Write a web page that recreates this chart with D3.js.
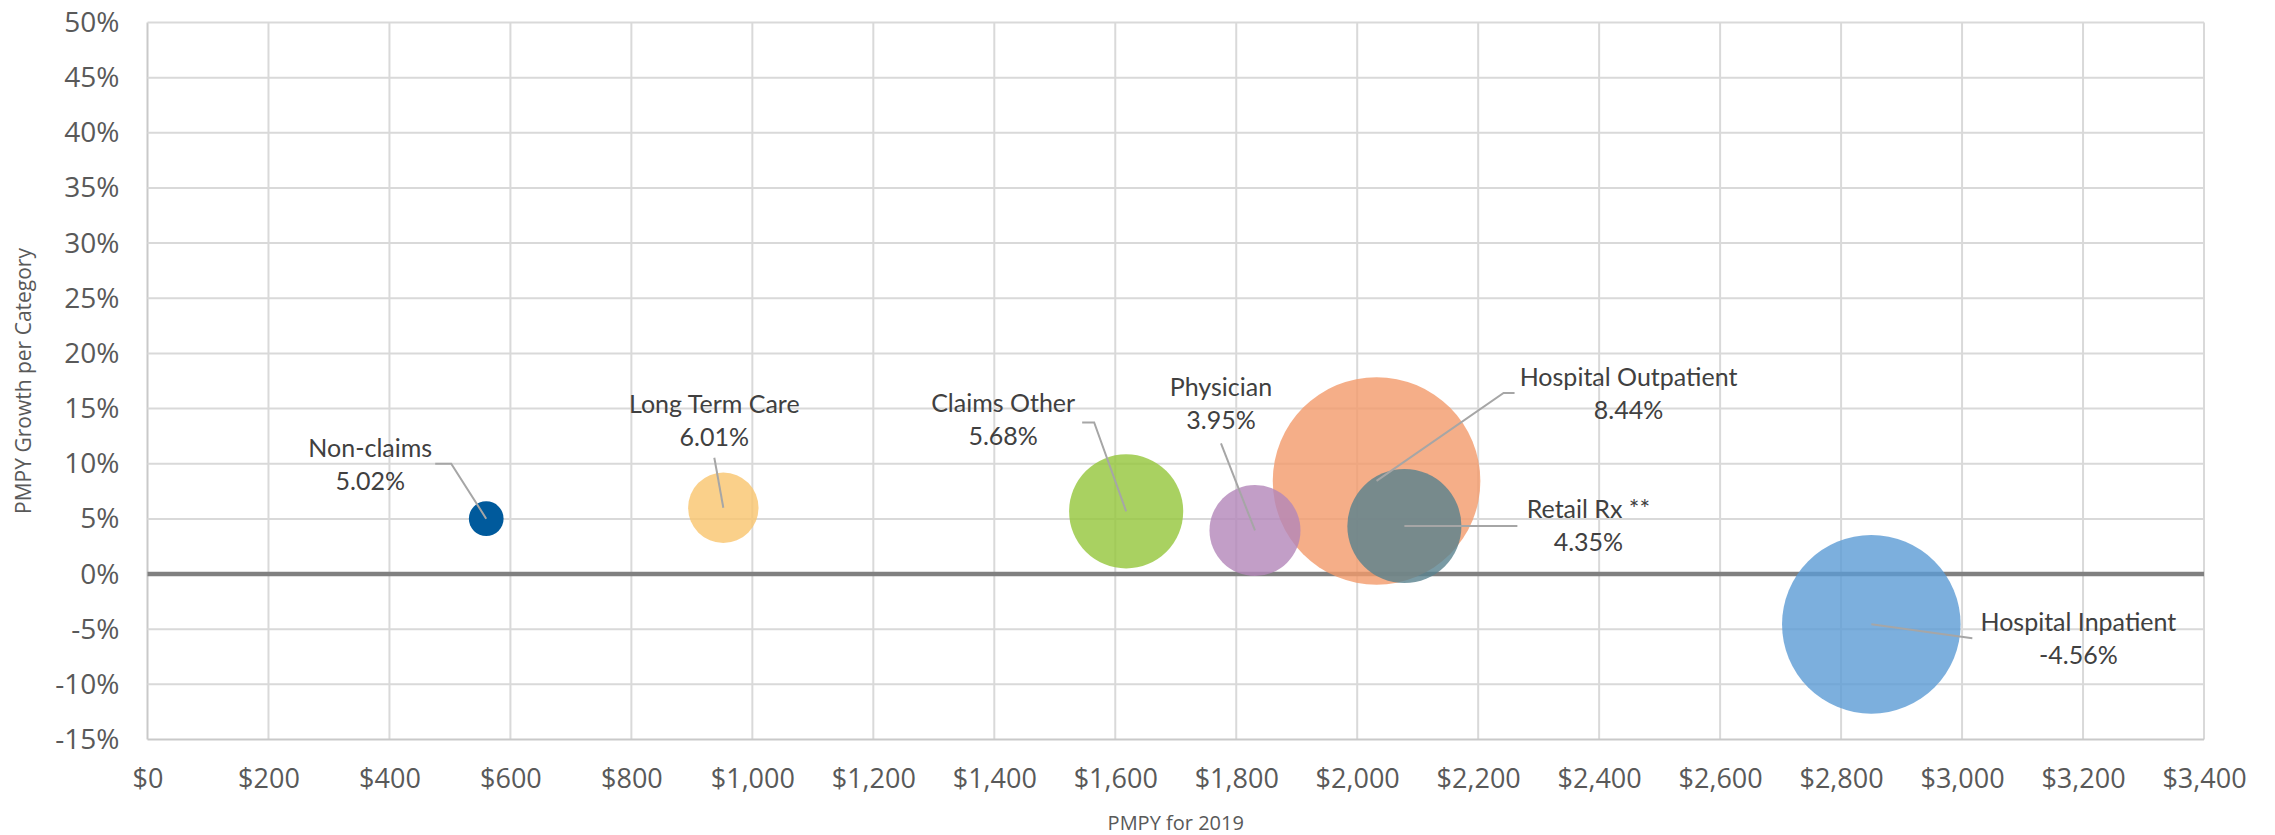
<!DOCTYPE html>
<html>
<head>
<meta charset="utf-8">
<script src="https://cdn.jsdelivr.net/npm/d3@7"></script>
<style>
  html, body { margin: 0; padding: 0; background: #fff; }
  svg { display: block; }
</style>
</head>
<body>
<svg id="chart" width="2275" height="835"></svg>
<script>
// Spend categories, 2019 PMPY cost and year-over-year PMPY growth
const categories = ["Non-claims", "Long Term Care", "Claims Other", "Physician",
                    "Hospital Outpatient", "Retail Rx **", "Hospital Inpatient"];
const pmpy2019 = [560, 952, 1618, 1831, 2032, 2078, 2850];
const growthPct = [5.02, 6.01, 5.68, 3.95, 8.44, 4.35, -4.56];
// Relative bubble area per category
const bubbleSize = [2.8, 11.5, 30.2, 19.2, 100, 30.2, 74];

const xTicks = d3.range(0, 3401, 200);
const yTicks = d3.range(-15, 51, 5);

// Fill colours and opacity per category
const fills = ["#005A9C", "#F9C46D", "#93C53A", "#B386B9", "#F39A6A", "#58818D", "#5B9BD5"];
const fillOpacity = [1, 0.8, 0.8, 0.8, 0.8, 0.8, 0.8];

// Data label placement: text centre / first baseline offset from the bubble centre,
// leader start point and optional elbow (pixels, relative to bubble centre)
const labelLayout = [
  { tx: -116, ty: -62, lx: -51, ly: -55, ex: -35, ey: -55 },
  { tx: -9,   ty: -95, lx: -9,  ly: -50 },
  { tx: -123, ty: -99, lx: -44, ly: -89, ex: -32, ey: -89 },
  { tx: -34,  ty: -134, lx: -34, ly: -87 },
  { tx: 252,  ty: -95, lx: 138, ly: -88, ex: 127, ey: -88 },
  { tx: 184,  ty: -8,  lx: 113, ly: 0 },
  { tx: 207,  ty: 7,   lx: 101, ly: 14 }
];

const rows = categories.map((c, i) => ({
  name: c, x: pmpy2019[i], y: growthPct[i], size: bubbleSize[i],
  fill: fills[i], op: fillOpacity[i], lab: labelLayout[i]
}));

const svg = d3.select("#chart");
const plotLeft = 147.5, plotRight = 2204, plotTop = 22.5, plotBottom = 739.5;

const x = d3.scaleLinear().domain([0, 3400]).range([plotLeft, plotRight]);
const y = d3.scaleLinear().domain([-15, 50]).range([plotBottom, plotTop]);
const r = d3.scaleSqrt().domain([0, 100]).range([0, 103.8]);

const loc = d3.formatLocale({ decimal: ".", thousands: ",", grouping: [3], currency: ["$", ""], minus: "-" });
const fmtMoney = loc.format("$,");
const fmtPct = v => loc.format("d")(v) + "%";
const fmtVal = v => loc.format(".2f")(v) + "%";

const tickFont = "'Open Sans', 'Noto Sans', sans-serif";
const labelFont = "Lato, 'Noto Sans', sans-serif";

// Gridlines
const grid = svg.append("g");
grid.selectAll("line.v").data(xTicks).join("line")
  .attr("x1", d => x(d)).attr("x2", d => x(d))
  .attr("y1", plotTop).attr("y2", plotBottom)
  .attr("stroke", d => d === 0 ? "#C9C9C9" : "#D9D9D9").attr("stroke-width", 2);
grid.selectAll("line.h").data(yTicks).join("line")
  .attr("x1", plotLeft).attr("x2", plotRight)
  .attr("y1", d => y(d)).attr("y2", d => y(d))
  .attr("stroke", d => d === -15 ? "#C9C9C9" : "#D9D9D9").attr("stroke-width", 2);

// Axes (labels only)
const xAxis = svg.append("g").attr("transform", `translate(0,${plotBottom})`)
  .call(d3.axisBottom(x).tickValues(xTicks).tickFormat(fmtMoney).tickSize(0).tickPadding(29));
const yAxis = svg.append("g").attr("transform", `translate(${plotLeft},0)`)
  .call(d3.axisLeft(y).tickValues(yTicks).tickFormat(fmtPct).tickSize(0).tickPadding(28));
[xAxis, yAxis].forEach(a => {
  a.select(".domain").remove();
  a.selectAll("text").attr("fill", "#595959").style("font-family", tickFont).style("font-size", "27px");
});
yAxis.selectAll("text").style("font-size", "28px");

// Zero line
svg.append("line")
  .attr("x1", plotLeft).attr("x2", plotRight)
  .attr("y1", y(0)).attr("y2", y(0))
  .attr("stroke", "#808080").attr("stroke-width", 4.5);

// Bubbles, largest drawn first
const sorted = rows.slice().sort((a, b) => b.size - a.size);
svg.append("g").selectAll("circle").data(sorted).join("circle")
  .attr("cx", d => x(d.x)).attr("cy", d => y(d.y)).attr("r", d => r(d.size))
  .attr("fill", d => d.fill).attr("fill-opacity", d => d.op);

// Leader lines
svg.append("g").selectAll("polyline").data(rows).join("polyline")
  .attr("points", d => {
    const cx = x(d.x), cy = y(d.y), L = d.lab;
    const pts = [[cx + L.lx, cy + L.ly]];
    if (L.ex !== undefined) pts.push([cx + L.ex, cy + L.ey]);
    pts.push([cx, cy]);
    return pts.map(p => p.join(",")).join(" ");
  })
  .attr("fill", "none").attr("stroke", "#A6A6A6").attr("stroke-width", 2);

// Data labels
const labels = svg.append("g").selectAll("text").data(rows).join("text")
  .attr("text-anchor", "middle")
  .attr("fill", "#404040")
  .style("font-family", labelFont).style("font-size", "25px");
labels.append("tspan")
  .attr("x", d => x(d.x) + d.lab.tx).attr("y", d => y(d.y) + d.lab.ty)
  .text(d => d.name);
labels.append("tspan")
  .attr("x", d => x(d.x) + d.lab.tx).attr("y", d => y(d.y) + d.lab.ty + 33)
  .text(d => fmtVal(d.y));

// Axis titles
svg.append("text")
  .attr("x", (plotLeft + plotRight) / 2).attr("y", 830)
  .attr("text-anchor", "middle").attr("fill", "#595959")
  .style("font-family", tickFont).style("font-size", "20px")
  .text("PMPY for 2019");
svg.append("text")
  .attr("transform", `translate(31,${(plotTop + plotBottom) / 2}) rotate(-90)`)
  .attr("text-anchor", "middle").attr("fill", "#595959")
  .style("font-family", tickFont).style("font-size", "21px")
  .text("PMPY Growth per Category");
</script>
</body>
</html>
